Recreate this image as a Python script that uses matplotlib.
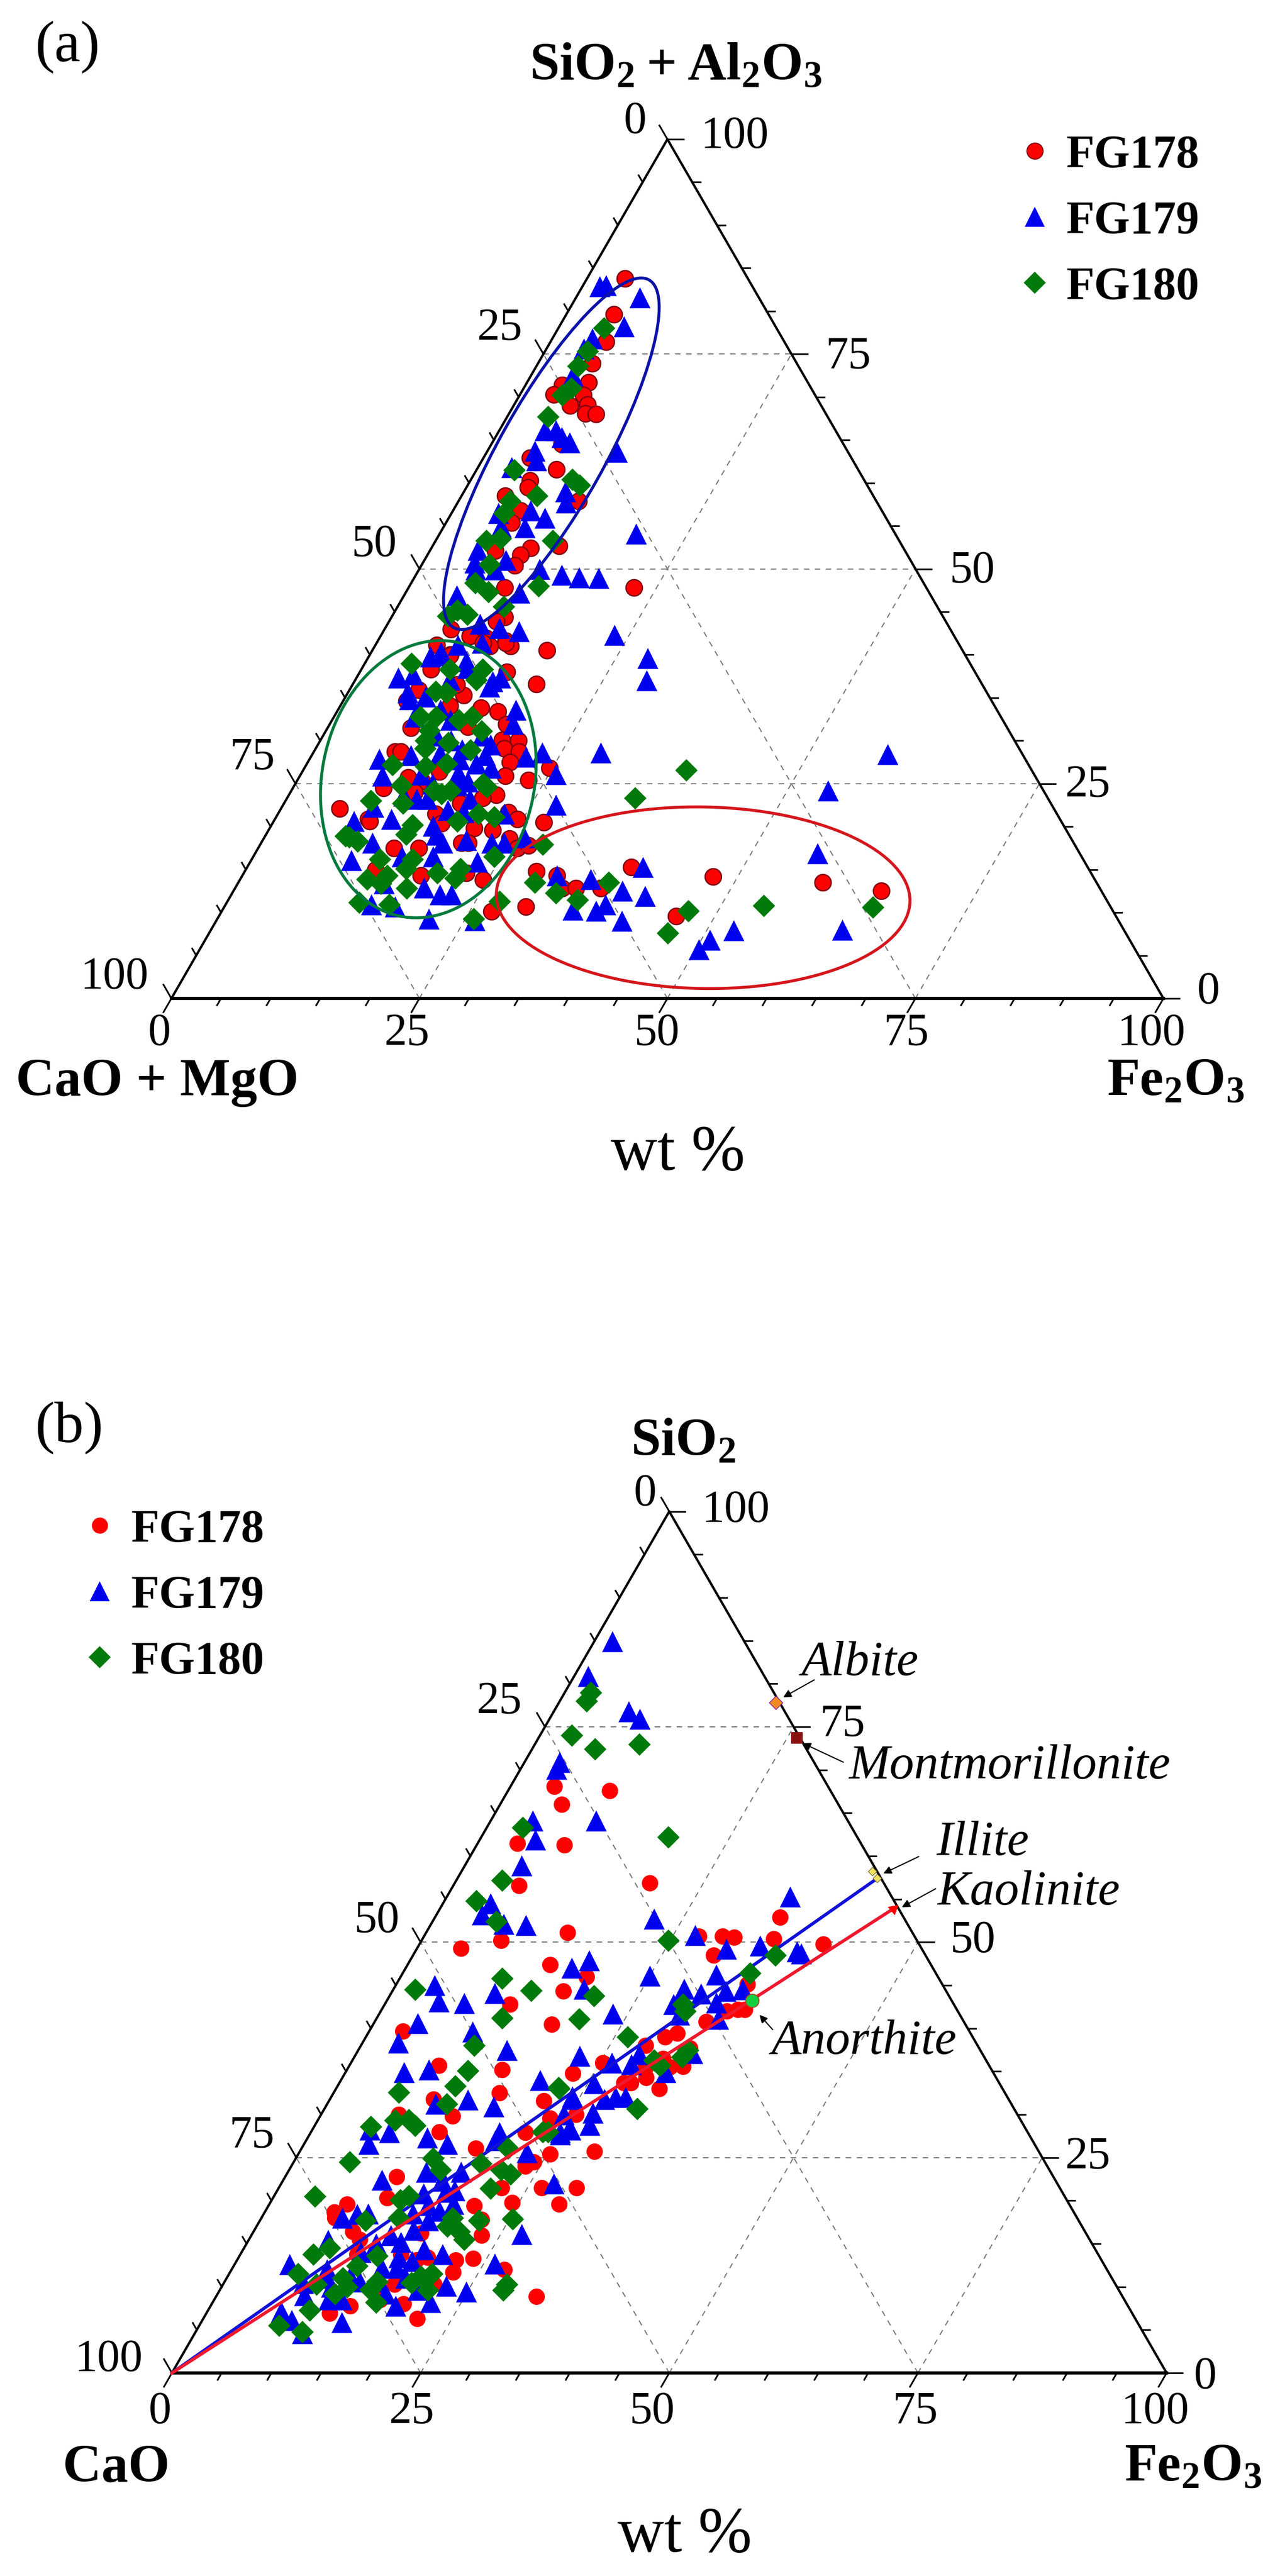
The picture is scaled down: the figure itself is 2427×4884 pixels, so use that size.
import numpy as np
import matplotlib
matplotlib.use('Agg')
import matplotlib.pyplot as plt
from matplotlib.patches import Ellipse
from matplotlib.lines import Line2D

W, H = 2427, 4884
S3 = np.sqrt(3) / 2

plt.rcParams['font.family'] = ['Liberation Serif', 'DejaVu Serif']
plt.rcParams['mathtext.fontset'] = 'custom'
plt.rcParams['mathtext.rm'] = 'Liberation Serif'
plt.rcParams['mathtext.bf'] = 'Liberation Serif:bold'

# all points are (Fe2O3 %, top component %)
a_fg178 = [(3.8,83.8),(4.8,79.6),(5.6,76.4),(5.5,73.9),(6.2,71.7),(3.7,71.4),(3.4,70.3),(6.4,70.2),(5.7,69.0),
    (7.4,69.1),(7.7,68.1),(8.8,68.0),(7.1,64.5),(4.7,62.9),(8.0,61.6),(6.0,60.3),(6.2,59.5),(4.4,58.5),(12.1,57.9),
    (6.8,56.8),(6.6,55.4),(10.0,52.4),(9.4,51.6),(9.4,50.4),(6.6,52.1),(12.7,52.7),(9.7,47.8),(22.7,47.8),(11.4,44.4),
    (10.8,43.9),(6.7,43.0),(9.0,42.2),(10.8,41.9),(11.6,41.0),(12.9,41.6),(13.7,41.0),(17.6,40.5),(6.2,41.1),(8.1,40.0),
    (9.0,42.2),(10.7,41.4),(13.0,41.4),(8.1,39.9),(7.0,38.3),(14.8,38.0),(18.5,36.6),(7.0,35.9),(11.8,35.3),(10.5,36.5),
    (6.4,34.6),(11.0,34.1),(14.3,33.8),(16.2,33.4),(17.8,31.9),(8.4,31.5),(14.1,31.6),(18.3,30.1),(20.0,30.0),(19.0,29.1),
    (20.7,28.7),(8.2,28.7),(8.8,28.7),(20.4,27.5),(20.7,25.9),(23.3,25.4),(13.8,26.4),(12.6,25.3),(11.0,25.7),(9.1,24.5),
    (12.5,24.0),(20.9,23.7),(19.7,23.3),(17.8,22.7),(5.9,22.1),(23.1,21.7),(24.4,20.9),(9.4,20.9),(9.7,20.6),(15.9,21.5),
    (17.0,20.4),(20.6,19.8),(22.6,19.6),(13.7,17.5),(16.2,17.5),(20.9,18.1),(20.2,18.1),(24.8,18.6),(26.1,17.5),(27.1,17.8),
    (27.3,20.5),(13.1,15.0),(18.0,14.3),(22.4,14.6),(24.5,13.8),(27.2,10.1),(30.4,10.7),(29.4,14.8),(31.7,14.3),(33.0,12.8),
    (34.4,12.8),(36.9,12.8),(38.7,15.3),(47.5,14.2),(58.9,13.5),(65.3,12.5),(46.1,9.6),(24.7,26.8)]
a_fg179 = [(2.3,83.0),(1.7,82.9),(6.4,81.6),(6.5,78.2),(4.0,76.8),(3.8,75.6),(4.2,72.5),(4.6,66.1),(5.7,66.1),(6.7,65.3),
    (7.8,64.7),(4.8,63.7),(5.5,62.6),(13.1,63.6),(3.4,61.8),(10.2,59.0),(10.9,57.7),(7.8,56.8),(9.7,55.9),(4.7,56.5),
    (8.2,54.8),(5.8,54.9),(19.8,54.1),(4.8,52.2),(5.2,50.7),(8.2,51.0),(7.7,49.9),(5.7,49.9),(12.1,50.0),(14.7,49.3),
    (16.6,49.0),(18.6,48.9),(11.5,47.2),(5.3,46.9),(9.3,43.6),(11.5,43.1),(13.7,42.7),(23.5,42.3),(28.2,39.6),(29.4,37.0),
    (29.0,28.6),(8.3,41.1),(10.6,41.4),(7.0,40.3),(4.2,37.3),(6.0,35.6),(6.6,34.8),(6.2,39.8),(7.3,39.9),(10.1,39.2),
    (10.6,38.4),(5.5,37.7),(9.5,37.1),(13.9,36.9),(14.5,37.3),(13.9,36.3),(17.9,33.6),(18.5,31.9),(8.1,35.1),(8.1,32.8),
    (11.9,32.4),(7.0,27.9),(10.0,28.3),(17.4,29.5),(17.5,28.3),(12.8,28.5),(21.7,28.1),(8.3,25.9),(15.8,26.2),(17.3,25.2),
    (16.4,24.8),(17.1,27.3),(13.1,23.2),(14.2,23.2),(18.5,23.2),(9.2,22.3),(11.7,20.9),(8.1,20.6),(22.8,21.5),(16.9,21.9),
    (16.3,20.1),(18.6,21.7),(11.2,18.1),(10.1,16.1),(17.2,19.0),(18.1,16.5),(18.3,18.1),(20.5,18.4),(23.2,18.1),(24.5,18.1),
    (26.2,18.7),(22.9,15.9),(15.0,16.5),(19.0,12.9),(21.0,12.1),(22.2,12.1),(14.7,13.4),(14.7,10.9),(17.2,10.7),(21.3,9.3),
    (26.0,9.1),(27.5,22.5),(25.7,26.1),(23.1,28.6),(58.0,28.4),(54.1,24.2),(56.7,16.9),(39.9,15.3),(31.7,14.3),(35.3,13.9),
    (39.2,12.5),(41.8,11.9),(38.3,10.9),(35.3,10.3),(37.7,10.2),(40.9,9.0),(52.7,7.9),(50.9,6.8),(50.3,5.7),(63.6,8.0),
    (10.3,33.6),(11.4,30.6),(13.2,30.0),(14.8,29.0),(16.0,30.6),(12.2,26.0),(13.8,25.0),(15.2,27.8),(18.8,26.8),(11.6,23.6)]
a_fg180 = [(4.6,78.0),(4.3,75.3),(4.2,73.6),(4.8,71.0),(4.3,70.2),(4.1,67.7),(3.8,61.5),(10.2,60.4),(11.3,59.7),(7.6,58.5),
    (5.2,57.9),(5.3,56.5),(5.1,53.3),(6.4,53.5),(11.8,53.3),(6.8,50.5),(6.4,48.4),(8.3,47.3),(13.0,48.0),(10.7,45.6),
    (5.6,44.5),(6.2,45.2),(7.5,44.7),(4.7,39.0),(8.9,38.3),(12.2,38.3),(12.2,37.1),(8.8,35.7),(9.9,35.6),(8.7,32.8),
    (10.3,32.8),(12.8,32.4),(13.9,32.8),(15.7,31.1),(10.4,31.2),(10.6,30.0),(13.0,29.8),(15.7,28.9),(11.0,29.1),(8.7,27.2),
    (12.1,27.0),(14.1,27.3),(10.8,24.8),(18.9,25.0),(19.5,24.6),(14.4,24.2),(16.0,24.2),(15.3,23.8),(8.6,23.0),(12.0,22.7),
    (20.2,21.5),(22.0,21.1),(18.5,20.6),(14.2,20.2),(14.1,19.1),(8.5,18.8),(8.1,18.9),(9.6,18.3),(16.2,16.2),(16.1,15.1),
    (12.9,16.2),(14.6,14.3),(12.8,13.9),(14.4,13.4),(17.3,12.8),(19.5,14.6),(21.6,15.1),(21.6,14.0),(24.3,16.5),(27.4,11.3),
    (13.3,11.2),(16.5,10.9),(25.8,9.3),(28.5,17.9),(29.9,13.5),(32.6,12.3),(35.2,11.5),(37.3,13.5),(38.6,26.6),(35.1,23.3),
    (47.0,10.2),(46.2,7.6),(54.3,10.8),(65.4,10.6)]

b_fg178 = [(4.4,68.1),(6.2,66.0),(10.2,67.6),(4.0,61.5),(8.8,61.3),(6.6,56.6),(19.6,56.9),(14.2,51.1),(8.0,50.2),(4.4,49.3),
    (14.3,47.4),(18.7,46.0),(17.2,44.3),(12.6,42.8),(34.7,52.9),(35.3,50.4),(40.6,49.8),(27.6,50.7),(30.0,50.7),(31.2,50.6),
    (30.2,48.5),(30.1,39.0),(31.1,39.4),(28.6,38.0),(33.3,40.8),(34.8,42.0),(35.8,42.2),(36.5,42.2),(35.3,45.1),(33.2,37.7),
    (33.6,35.6),(31.1,36.5),(32.3,35.5),(30.5,34.3),(29.9,35.3),(32.5,33.0),(29.3,33.7),(28.6,33.7),(25.3,36.0),(22.9,34.8),
    (25.6,30.0),(29.6,25.7),(17.9,40.5),(3.4,39.7),(9.0,35.7),(15.6,35.2),(16.7,32.5),(10.4,31.8),(13.3,29.8),(7.8,30.0),
    (21.6,31.6),(23.2,29.6),(21.6,27.9),(12.9,28.0),(25.3,25.4),(17.5,26.1),(24.1,24.5),(23.5,24.0),(11.2,22.8),(26.4,21.5),
    (29.9,21.5),(29.1,19.6),(11.5,20.3),(7.8,19.6),(7.0,18.7),(7.4,18.0),(20.7,19.4),(24.3,19.8),(22.2,17.8),(23.1,16.0),
    (10.0,16.4),(23.6,13.3),(22.0,13.1),(22.4,11.7),(18.0,13.1),(19.0,13.4),(27.4,12.0),(32.2,8.9),(21.5,6.3),(12.4,6.9),
    (11.7,13.8),(11.1,15.5),(17.2,10.3),(19.3,8.0),(16.7,8.5),(14.0,7.8),(21.2,10.3),(16.9,16.2),(16.1,13.8),(22.4,21.5)]
b_fg179 = [(1.8,84.9),(1.4,80.9),(7.5,76.8),(9.1,75.9),(3.5,70.9),(3.6,70.1),(10.6,64.1),(4.2,64.1),(5.6,61.9),(5.7,58.9),
    (4.8,54.5),(4.6,53.2),(7.3,52.1),(9.6,52.0),(22.1,52.7),(27.2,50.8),(31.1,49.2),(34.3,49.6),(18.0,47.9),(16.7,47.0),
    (3.9,45.0),(25.0,46.1),(19.1,44.6),(10.4,44.1),(31.6,46.2),(35.1,44.5),(5.3,43.1),(7.9,42.9),(29.2,44.6),(31.2,44.0),
    (33.5,44.3),(34.5,55.3),(38.4,48.9),(38.9,48.7),(23.5,41.7),(22.6,36.8),(29.0,42.8),(30.2,41.6),(33.2,43.0),(34.4,41.1),
    (33.8,37.1),(28.5,37.0),(28.3,35.8),(26.2,36.0),(32.2,34.9),(25.6,33.6),(24.4,31.8),(27.6,31.8),(28.6,32.0),(29.6,32.0),
    (27.2,30.2),(27.6,28.8),(25.8,28.3),(25.2,27.7),(24.4,30.0),(4.4,40.6),(3.6,38.3),(10.4,39.6),(14.9,37.5),(5.9,34.9),
    (8.2,35.2),(20.0,34.0),(13.9,31.7),(10.9,31.2),(16.9,30.9),(24.2,32.1),(26.0,28.2),(25.1,27.9),(19.0,27.9),(19.0,27.0),
    (5.8,28.2),(7.9,27.9),(6.5,26.6),(12.0,27.3),(14.4,26.6),(22.9,25.6),(9.9,22.4),(13.9,23.3),(17.4,23.3),(27.4,22.0),
    (14.9,20.8),(17.8,21.2),(8.1,18.0),(9.4,18.4),(10.5,18.5),(27.1,16.1),(8.0,15.4),(15.4,15.2),(16.0,16.6),(16.9,17.7),
    (18.2,14.3),(20.3,13.8),(26.1,12.7),(5.5,12.6),(16.5,12.2),(16.1,13.4),(22.5,10.1),(24.9,9.4),(21.9,8.2),(18.6,7.8),
    (16.9,9.2),(14.1,5.9),(11.5,8.5),(12.8,8.5),(8.8,9.0),(13.6,10.6),(7.4,7.1),(9.0,6.1),(10.8,4.6),(10.1,11.0),(19.9,9.6),
    (15.0,23.5),(16.0,22.3),(17.0,21.0),(16.0,19.5),(15.0,18.5),(17.5,18.8),(18.5,19.6),(14.0,16.0),(13.0,15.0),(12.0,14.0),
    (15.0,12.2),(17.6,13.0),(15.5,10.6),(18.0,11.0),(11.0,10.0),(12.3,11.2),(8.0,10.4),(9.6,12.0)]
b_fg180 = [(2.6,79.0),(2.7,78.0),(3.2,74.0),(6.3,72.4),(10.5,73.0),(3.6,63.3),(18.8,62.2),(4.6,57.2),(3.2,54.8),(6.4,52.4),
    (24.8,50.2),(10.3,45.8),(2.2,44.5),(13.9,44.4),(20.5,43.8),(36.4,48.5),(34.9,46.4),(20.4,41.1),(26.3,39.0),(30.0,42.8),
    (30.6,42.0),(33.1,37.5),(32.9,36.7),(31.2,35.7),(30.3,36.3),(31.4,30.7),(22.4,33.0),(12.6,41.2),(11.4,38.0),(12.2,35.1),
    (11.8,33.3),(6.5,32.6),(12.0,31.2),(22.3,33.1),(5.7,28.6),(7.8,29.3),(9.1,29.4),(10.1,28.7),(20.7,26.1),(23.3,28.0),
    (23.8,28.0),(5.6,24.5),(13.8,24.9),(15.2,23.6),(18.9,24.3),(21.3,23.6),(22.5,23.1),(21.3,21.4),(4.1,20.5),(13.5,20.6),
    (12.9,20.1),(10.6,17.7),(13.8,18.0),(19.2,18.0),(19.2,17.0),(20.7,16.4),(21.6,15.5),(22.0,17.7),(25.3,17.9),(7.3,13.8),
    (8.6,14.5),(13.8,13.6),(6.9,11.5),(12.4,12.4),(11.7,11.0),(9.4,10.3),(11.8,9.2),(12.6,10.0),(15.1,9.7),(15.3,10.6),
    (16.4,8.2),(18.8,10.5),(19.4,11.2),(20.4,11.5),(20.9,9.6),(28.5,10.3),(28.5,9.6),(10.2,7.3),(8.0,5.5),(10.7,4.8)]

series_names = ['FG178', 'FG179', 'FG180']
grid_levels = [25, 50, 75]
tick_levels = list(range(0, 101, 5))
illite_pts = [(41.3, 58.2), (42.2, 57.4)]
albite_pt = (21.8, 77.8)
montmorillonite_pt = (26.0, 73.7)
kaolinite_pt = (45.6, 53.9)
anorthite_pt = (36.7, 43.2)
illite_line_end = (42.2, 57.4)

RED, BLUE, GREEN = '#ff0000', '#0000f0', '#007a0a'


def proj(pts):
    pts = np.asarray(pts, dtype=float).reshape(-1, 2)
    return pts[:, 0] + pts[:, 1] / 2, pts[:, 1] * S3


def make_panel(left, base, width):
    height = width * S3
    ax = fig.add_axes([left / W, 1 - base / H, width / W, height / H])
    ax.set_xlim(0, 100)
    ax.set_ylim(0, 100 * S3)
    ax.axis('off')

    # dashed grid
    for v in grid_levels:
        for pair in ([(0, v), (100 - v, v)], [(v, 0), (v, 100 - v)], [(100 - v, 0), (0, 100 - v)]):
            x, y = proj(pair)
            ax.plot(x, y, color='#777777', lw=1.5, ls=(0, (5, 5)), zorder=1, clip_on=False)

    # frame
    x, y = proj([(0, 0), (0, 100), (100, 0)])
    ax.plot(x[:2], y[:2], color='black', lw=3.2, zorder=2, clip_on=False, solid_capstyle='round')
    ax.plot(x[1:], y[1:], color='black', lw=3.2, zorder=2, clip_on=False, solid_capstyle='round')
    ax.plot(x[[0, 2]], y[[0, 2]], color='black', lw=4.4, zorder=2, clip_on=False)

    # ticks on the three sides, all 5 %
    for v in tick_levels:
        ln = 1.6 if v % 25 == 0 else 0.8
        # bottom
        x, y = proj([(v, 0)])
        ax.plot([x[0], x[0] - 0.5 * ln], [0, -S3 * ln], color='black', lw=2.3, clip_on=False, zorder=2)
        # left
        x, y = proj([(0, v)])
        ax.plot([x[0], x[0] - 0.5 * ln], [y[0], y[0] + S3 * ln], color='black', lw=2.3, clip_on=False, zorder=2)
        # right
        x, y = proj([(100 - v, v)])
        ax.plot([x[0], x[0] + ln], [y[0], y[0]], color='black', lw=2.3, clip_on=False, zorder=2)
    return ax


def points(ax, data, kind, z, edge=False):
    x, y = proj(data)
    if kind == 0:
        ec = '#7a0010' if edge else RED
        return ax.scatter(x, y, s=500, marker='o', c=RED, edgecolors=ec, linewidths=1.8 if edge else 0, zorder=z, clip_on=False)
    if kind == 1:
        return ax.scatter(x, y, s=820, marker='^', c=BLUE, linewidths=0, zorder=z, clip_on=False)
    return ax.scatter(x, y, s=470, marker='D', c=GREEN, linewidths=0, zorder=z, clip_on=False)


def label(x, y, s, size=62, va='center', **kw):
    fig.text(x / W, 1 - y / H, s, ha='center', va=va, fontsize=size, **kw)


def legend(ax, x, y, edge):
    hs = [Line2D([], [], ls='', marker='o', ms=22, mfc=RED, mec='#7a0010' if edge else RED, mew=1.4 if edge else 0),
          Line2D([], [], ls='', marker='^', ms=28, mfc=BLUE, mew=0),
          Line2D([], [], ls='', marker='D', ms=21, mfc=GREEN, mew=0)]
    ax.legend(hs, series_names, loc='center left', bbox_to_anchor=(x / W, 1 - y / H),
              bbox_transform=fig.transFigure, frameon=False, handlelength=0.6, handletextpad=0.38,
              borderpad=0, borderaxespad=0, labelspacing=0.5,
              prop={'family': 'Liberation Serif', 'weight': 'bold', 'size': 63})


def pointer(x0, y0, x1, y1):
    fig.add_artist(matplotlib.patches.FancyArrowPatch((x0 / W, 1 - y0 / H), (x1 / W, 1 - y1 / H),
                   transform=fig.transFigure, arrowstyle='-|>', mutation_scale=22, lw=1.6, color='black', shrinkA=0, shrinkB=0))


fig = plt.figure(figsize=(W / 100, H / 100), dpi=100)

# ---- panel a
ax_a = make_panel(325, 1893, 1881)
points(ax_a, a_fg178, 0, 3, edge=True)
points(ax_a, a_fg179, 1, 4)
points(ax_a, a_fg180, 2, 5)
ax_a.add_patch(Ellipse((38.3, 54.9), 40.2, 10.6, angle=60.7, fill=False, ec='#0a12a8', lw=4, zorder=6, clip_on=False))
ax_a.add_patch(Ellipse((25.9, 22.1), 28.2, 21.4, angle=78, fill=False, ec='#007a3d', lw=4, zorder=6, clip_on=False))
ax_a.add_patch(Ellipse((53.6, 10.15), 41.7, 18.3, angle=-1, fill=False, ec='#d4161c', lw=4, zorder=6, clip_on=False))
legend(ax_a, 1936, 420, True)

label(128, 90, '(a)', size=80)
label(1281, 152, r'$\mathbf{SiO_2 + Al_2O_3}$', size=73, va='baseline')
label(1204, 231, '0')
label(1393, 259, '100')
for x, y, s in [(947, 623, '25'), (710, 1033, '50'), (478, 1437, '75'), (217, 1853, '100'),
                (1608, 677, '75'), (1844, 1083, '50'), (2062, 1489, '25'), (2291, 1881, '0'),
                (302, 1960, '0'), (771, 1960, '25'), (1246, 1960, '50'), (1718, 1960, '75'), (2183, 1960, '100')]:
    label(x, y, s)
label(298, 2077, 'CaO + MgO', size=73, va='baseline', fontweight='bold')
label(2229, 2077, r'$\mathbf{Fe_2O_3}$', size=73, va='baseline')
label(1285, 2218, 'wt %', size=88, va='baseline')

# ---- panel b
ax_b = make_panel(326, 4499, 1886)
points(ax_b, b_fg178, 0, 3)
x, y = proj([(0, 0), illite_line_end])
ax_b.plot(x, y, color='#1010d8', lw=4.4, zorder=4.5, clip_on=False)
points(ax_b, b_fg179, 1, 4)
points(ax_b, b_fg180, 2, 5)
x, y = proj([(0, 0), kaolinite_pt])
ax_b.plot(x, y, color='#f0182c', lw=4.4, zorder=5.5, clip_on=False)

x, y = proj([albite_pt])
ax_b.scatter(x, y, s=170, marker='D', c='#f08a20', edgecolors='#8020a0', linewidths=1, zorder=6, clip_on=False)
x, y = proj([montmorillonite_pt])
ax_b.scatter(x, y, s=260, marker='s', c='#8b1010', linewidths=0, zorder=6, clip_on=False)
x, y = proj(illite_pts)
ax_b.scatter(x, y, s=70, marker='D', c='#f0e060', edgecolors='#706020', linewidths=0.8, zorder=6, clip_on=False)
x, y = proj([kaolinite_pt])
ax_b.scatter(x, y, s=300, marker=(3, 0, -50), c=RED, linewidths=0, zorder=6, clip_on=False)
x, y = proj([anorthite_pt])
ax_b.scatter(x, y, s=330, marker='o', c='#10d040', edgecolors='#a05020', linewidths=1.4, zorder=6, clip_on=False)

legend(ax_b, 163, 3026, False)

label(131, 2708, '(b)', size=80)
label(1295, 2760, r'$\mathbf{SiO_2}$', size=73, va='baseline')
label(1223, 2833, '0')
label(1395, 2864, '100')
for x, y, s in [(946, 3227, '25'), (715, 3642, '50'), (477, 4050, '75'), (206, 4474, '100'),
                (1597, 3270, '75'), (1845, 3680, '50'), (2062, 4090, '25'), (2285, 4507, '0'),
                (303, 4573, '0'), (780, 4573, '25'), (1237, 4573, '50'), (1735, 4573, '75'), (2190, 4573, '100')]:
    label(x, y, s)
label(220, 4704, 'CaO', size=73, va='baseline', fontweight='bold')
label(2262, 4704, r'$\mathbf{Fe_2O_3}$', size=73, va='baseline')
label(1298, 4838, 'wt %', size=88, va='baseline')

for x, y, s in [(1630, 3176, 'Albite'), (1914, 3372, 'Montmorillonite'), (1863, 3517, 'Illite'),
                (1950, 3611, 'Kaolinite'), (1638, 3894, 'Anorthite')]:
    label(x, y, s, size=67, va='baseline', style='italic')

pointer(1544, 3185, 1485, 3218)
pointer(1599, 3341, 1522, 3305)
pointer(1742, 3520, 1675, 3552)
pointer(1774, 3581, 1710, 3616)
pointer(1465, 3848, 1440, 3820)

fig.savefig('out.png', dpi=100, facecolor='white')
